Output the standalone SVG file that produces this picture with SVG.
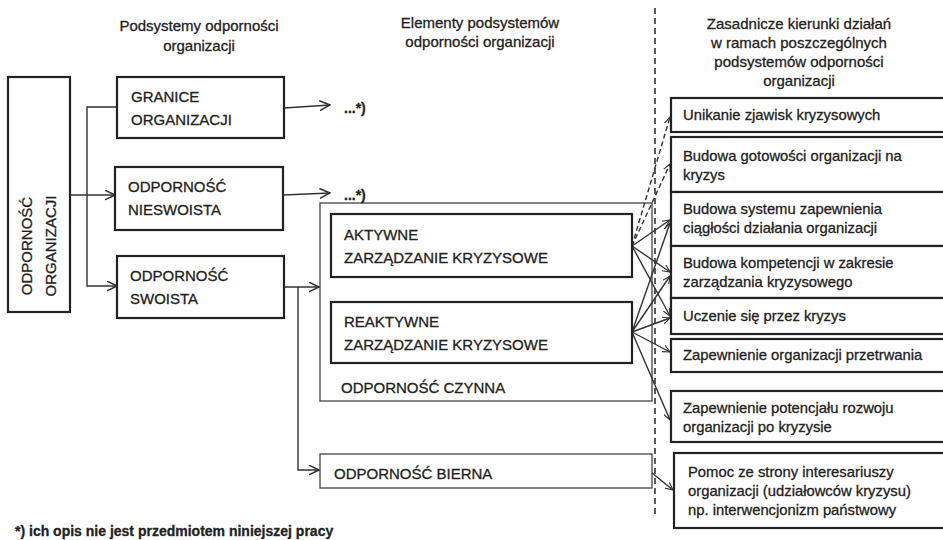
<svg xmlns="http://www.w3.org/2000/svg" width="943" height="540" viewBox="0 0 943 540">
<style>
text{font-family:"Liberation Sans",Arial,sans-serif;fill:#222;stroke:#222;stroke-width:0.3}
.h{font-size:15px;text-anchor:middle}
.b{font-size:15px}
.r{font-size:14.8px}
.box{fill:#fff;stroke:#222;stroke-width:2.2}
.thin{fill:none;stroke:#444;stroke-width:1.3}
.c{fill:none;stroke:#333;stroke-width:1.4}
.d{stroke-dasharray:5 3}
</style>
<defs>
<marker id="arr" viewBox="0 0 10 10" refX="9.5" refY="5" markerWidth="11" markerHeight="11" markerUnits="userSpaceOnUse" orient="auto">
<path d="M0,0.5 L9.5,5 L0,9.5" fill="none" stroke="#333" stroke-width="1.4"/>
</marker>
<marker id="arrs" viewBox="0 0 10 10" refX="9.5" refY="5" markerWidth="8" markerHeight="8" markerUnits="userSpaceOnUse" orient="auto">
<path d="M0,0.5 L9.5,5 L0,9.5" fill="none" stroke="#333" stroke-width="1.4"/>
</marker>
</defs>

<g id="headers">
<text class="h" x="199" y="31">Podsystemy odporności</text>
<text class="h" x="199" y="51">organizacji</text>
<text class="h" x="480" y="28">Elementy podsystemów</text>
<text class="h" x="480" y="47">odporności organizacji</text>
<text class="h" x="799" y="29">Zasadnicze kierunki działań</text>
<text class="h" x="799" y="48">w ramach poszczególnych</text>
<text class="h" x="799" y="67">podsystemów odporności</text>
<text class="h" x="799" y="86">organizacji</text>
</g>

<line id="divider" x1="655" y1="8" x2="655" y2="516" stroke="#333" stroke-width="1.6" stroke-dasharray="6 4"/>

<g id="n-czynna">
<rect class="thin" x="320" y="203" width="332" height="198"/>
<text class="b" x="341" y="393">ODPORNOŚĆ CZYNNA</text>
</g>

<g id="connectors">
<polyline class="c" points="70,195 115,195" marker-end="url(#arr)"/>
<polyline class="c" points="117,107 87,107 87,286 117,286" marker-end="url(#arr)"/>
<line class="c" x1="284" y1="108" x2="330" y2="105" marker-end="url(#arr)"/>
<line class="c" x1="283" y1="195" x2="330" y2="193" marker-end="url(#arr)"/>
<line class="c" x1="284" y1="287" x2="319" y2="287" marker-end="url(#arr)"/>
<polyline class="c" points="298,287 298,470 319,470" marker-end="url(#arr)"/>
<line class="c d" x1="632" y1="246" x2="670" y2="117" marker-end="url(#arrs)"/>
<line class="c d" x1="632" y1="246" x2="670" y2="164" marker-end="url(#arrs)"/>
<line class="c" x1="632" y1="246" x2="670" y2="220" marker-end="url(#arrs)"/>
<line class="c" x1="632" y1="246" x2="670" y2="272" marker-end="url(#arrs)"/>
<line class="c" x1="632" y1="246" x2="670" y2="316" marker-end="url(#arrs)"/>
<line class="c" x1="632" y1="332" x2="670" y2="223" marker-end="url(#arrs)"/>
<line class="c" x1="632" y1="332" x2="670" y2="276" marker-end="url(#arrs)"/>
<line class="c" x1="632" y1="332" x2="670" y2="318" marker-end="url(#arrs)"/>
<line class="c" x1="632" y1="332" x2="670" y2="352" marker-end="url(#arrs)"/>
<line class="c" x1="632" y1="332" x2="670" y2="420" marker-end="url(#arrs)"/>
<line class="c" x1="652" y1="473" x2="673" y2="490" marker-end="url(#arrs)"/>
</g>

<g id="n-odpornosc-organizacji">
<rect class="box" x="8" y="77" width="62" height="235"/>
<text class="b" transform="translate(32,246) rotate(-90)" text-anchor="middle">ODPORNOŚĆ</text>
<text class="b" transform="translate(56,246) rotate(-90)" text-anchor="middle">ORGANIZACJI</text>
</g>

<g id="n-granice">
<rect class="box" x="117" y="77" width="167" height="61"/>
<text class="b" x="131" y="102">GRANICE</text>
<text class="b" x="131" y="125">ORGANIZACJI</text>
</g>
<text id="t-granice-more" x="344" y="113" font-size="14" font-weight="bold">...*)</text>

<g id="n-nieswoista">
<rect class="box" x="115" y="167" width="168" height="63"/>
<text class="b" x="128" y="192">ODPORNOŚĆ</text>
<text class="b" x="128" y="215">NIESWOISTA</text>
</g>
<text id="t-nieswoista-more" x="344" y="200" font-size="14" font-weight="bold">...*)</text>

<g id="n-swoista">
<rect class="box" x="117" y="256" width="167" height="62"/>
<text class="b" x="130" y="281">ODPORNOŚĆ</text>
<text class="b" x="130" y="304">SWOISTA</text>
</g>

<g id="n-aktywne">
<rect class="box" x="331" y="214" width="301" height="63"/>
<text class="b" x="344" y="240">AKTYWNE</text>
<text class="b" x="344" y="263">ZARZĄDZANIE KRYZYSOWE</text>
</g>

<g id="n-reaktywne">
<rect class="box" x="331" y="302" width="301" height="61"/>
<text class="b" x="344" y="327">REAKTYWNE</text>
<text class="b" x="344" y="350">ZARZĄDZANIE KRYZYSOWE</text>
</g>

<g id="n-bierna">
<rect class="thin" x="320" y="454" width="332" height="34" fill="#fff"/>
<text class="b" x="334" y="479">ODPORNOŚĆ BIERNA</text>
</g>

<g id="n-r1">
<rect class="box" x="671" y="98" width="280" height="34"/>
<text class="r" x="683" y="120">Unikanie zjawisk kryzysowych</text>
</g>
<g id="n-r2">
<rect class="box" x="671" y="137" width="280" height="55"/>
<text class="r" x="683" y="161">Budowa gotowości organizacji  na</text>
<text class="r" x="683" y="180">kryzys</text>
</g>
<g id="n-r3">
<rect class="box" x="671" y="192" width="280" height="54"/>
<text class="r" x="683" y="214">Budowa systemu zapewnienia</text>
<text class="r" x="683" y="233">ciągłości działania organizacji</text>
</g>
<g id="n-r4">
<rect class="box" x="671" y="246" width="280" height="52"/>
<text class="r" x="683" y="268">Budowa kompetencji w zakresie</text>
<text class="r" x="683" y="287">zarządzania kryzysowego</text>
</g>
<g id="n-r5">
<rect class="box" x="671" y="298" width="280" height="36"/>
<text class="r" x="683" y="321">Uczenie się przez kryzys</text>
</g>
<g id="n-r6">
<rect class="box" x="671" y="339" width="280" height="33"/>
<text class="r" x="683" y="360">Zapewnienie organizacji przetrwania</text>
</g>
<g id="n-r7">
<rect class="box" x="671" y="391" width="280" height="51"/>
<text class="r" x="683" y="413">Zapewnienie potencjału rozwoju</text>
<text class="r" x="683" y="432">organizacji po kryzysie</text>
</g>
<g id="n-r8">
<rect class="box" x="674" y="453" width="280" height="75"/>
<text class="r" x="688" y="477">Pomoc ze strony interesariuszy</text>
<text class="r" x="688" y="496">organizacji (udziałowców kryzysu)</text>
<text class="r" x="688" y="515">np. interwencjonizm państwowy</text>
</g>

<text id="footnote" x="15" y="536" font-size="14" font-weight="bold" stroke-width="0">*) ich opis nie jest przedmiotem niniejszej pracy</text>
</svg>
